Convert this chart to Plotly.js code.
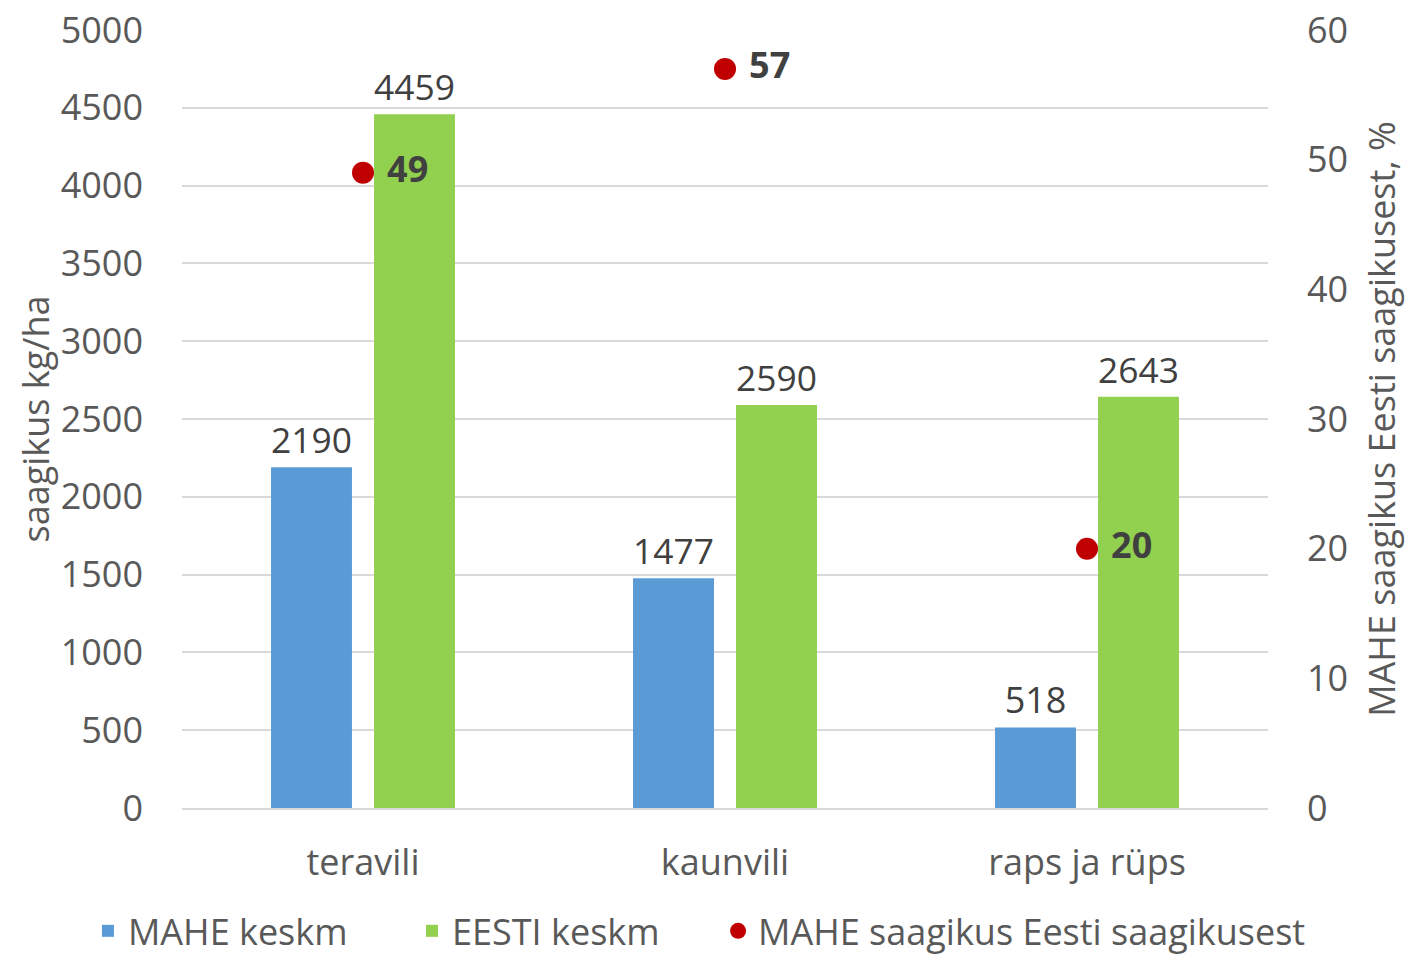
<!DOCTYPE html>
<html>
<head>
<meta charset="utf-8">
<script src="https://cdn.plot.ly/plotly-3.0.1.min.js"></script>
<style>html,body{margin:0;padding:0;background:#fff}#chart{width:1410px;height:957px}</style>
</head>
<body>
<div id="chart"></div>
<script>
const categories = ["teravili", "kaunvili", "raps ja rüps"];
const maheKeskm = [2190, 1477, 518];
const eestiKeskm = [4459, 2590, 2643];
const maheProtsent = [49, 57, 20];
const seriesNames = ["MAHE keskm", "EESTI keskm", "MAHE saagikus Eesti saagikusest"];
const leftTicks = [0, 500, 1000, 1500, 2000, 2500, 3000, 3500, 4000, 4500, 5000];
const rightTicks = [0, 10, 20, 30, 40, 50, 60];

const FONT = "Open Sans, Noto Sans, sans-serif";
const tickColor = "#595959";
const labelColor = "#404040";

const traces = [
  {
    type: "bar", name: seriesNames[0], x: categories, y: maheKeskm, legend: "legend",
    marker: {color: "#5B9BD5"},
    text: maheKeskm.map(String), textposition: "outside", cliponaxis: false,
    textfont: {family: FONT, size: 36, color: labelColor}
  },
  {
    type: "bar", name: seriesNames[1], x: categories, y: eestiKeskm, legend: "legend2",
    marker: {color: "#92D050"},
    text: eestiKeskm.map(String), textposition: "outside", cliponaxis: false,
    textfont: {family: FONT, size: 36, color: labelColor}
  },
  {
    type: "scatter", mode: "markers+text", name: seriesNames[2], x: categories, y: maheProtsent,
    yaxis: "y2", legend: "legend3",
    marker: {color: "#C00000", size: 22},
    text: maheProtsent.map(v => "<b>\u00a0" + v + "</b>"), textposition: "middle right",
    textfont: {family: FONT, size: 36, color: labelColor}, cliponaxis: false
  }
];

function legendAt(x) {
  return {
    orientation: "h", x: x, xanchor: "left", y: -0.158, yanchor: "middle",
    font: {family: FONT, size: 36, color: tickColor}, bgcolor: "rgba(0,0,0,0)"
  };
}

const layout = {
  width: 1410, height: 957,
  margin: {l: 182, r: 142, t: 30, b: 149, autoexpand: false},
  paper_bgcolor: "#fff", plot_bgcolor: "#fff",
  font: {family: FONT, size: 36, color: tickColor},
  barmode: "group", bargap: 0.431, bargroupgap: 0.214,
  showlegend: true,
  legend: legendAt(-0.0866),
  legend2: legendAt(0.2118),
  legend3: legendAt(0.4936),
  xaxis: {
    type: "category",
    showgrid: false, showline: true, linecolor: "#D9D9D9", linewidth: 2,
    ticks: "", ticklabelstandoff: 22,
    tickfont: {family: FONT, size: 36, color: tickColor}
  },
  yaxis: {
    range: [0, 5000], tickvals: leftTicks, ticktext: leftTicks.map(String),
    showgrid: true, gridcolor: "#D9D9D9", gridwidth: 2,
    zeroline: false, showline: false, ticks: "", ticklabelstandoff: 38,
    tickfont: {family: FONT, size: 36, color: tickColor},
    title: {text: "saagikus kg/ha", font: {family: FONT, size: 36, color: tickColor}, standoff: 0}
  },
  yaxis2: {
    overlaying: "y", side: "right",
    range: [0, 60], tickvals: rightTicks, ticktext: rightTicks.map(String),
    showgrid: false, zeroline: false, showline: false, ticks: "", ticklabelstandoff: 38,
    tickfont: {family: FONT, size: 36, color: tickColor},
    title: {text: "MAHE saagikus Eesti saagikusest, %", font: {family: FONT, size: 36, color: tickColor}, standoff: 22}
  }
};

Plotly.newPlot("chart", traces, layout, {displayModeBar: false, staticPlot: true});
</script>
</body>
</html>
